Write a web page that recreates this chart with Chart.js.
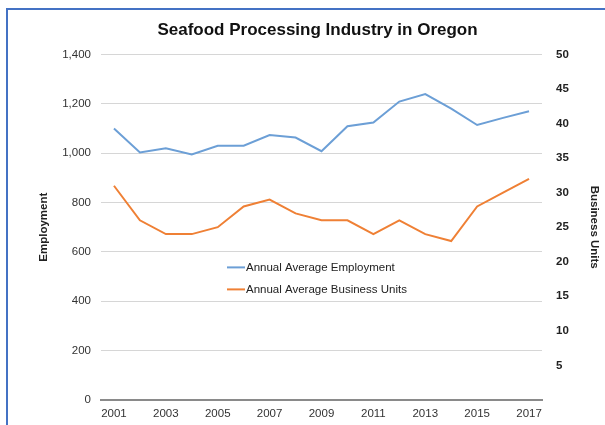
<!DOCTYPE html>
<html>
<head>
<meta charset="utf-8">
<script src="https://cdn.jsdelivr.net/npm/chart.js@4/dist/chart.umd.min.js"></script>
<style>
  html, body { margin: 0; padding: 0; background: #fff; }
  #frame {
    position: absolute; left: 6px; top: 8px; width: 599px; height: 417px;
    border-top: 2px solid #4472c4; border-left: 2px solid #4472c4;
  }
  #wrap { position: absolute; left: 0; top: 0; width: 605px; height: 425px; }
</style>
</head>
<body>
<div id="frame"></div>
<div id="wrap"><canvas id="chart" width="605" height="425"></canvas></div>
<script>
const years = ["2001", "2002", "2003", "2004", "2005", "2006", "2007", "2008", "2009",
  "2010", "2011", "2012", "2013", "2014", "2015", "2016", "2017"];
const employment = [1100, 1003, 1020, 995, 1030, 1030, 1073, 1063, 1008,
  1109, 1124, 1209, 1239, 1180, 1114, 1143, 1170];
const businessUnits = [31, 26, 24, 24, 25, 28, 29, 27, 26, 26, 24, 26, 24, 23, 28, 30, 32];

const blue = "#6c9fd6";
const orange = "#ef8035";
const font = "'Liberation Sans', Arial, sans-serif";

// legend sits inside the plot, under the employment line
const innerLegend = {
  id: "innerLegend",
  afterDatasetsDraw(chart) {
    const ctx = chart.ctx;
    const area = chart.chartArea;
    const x = area.left + 126;
    const rows = [
      { y: area.top + 213, color: blue, text: "Annual Average Employment" },
      { y: area.top + 235, color: orange, text: "Annual Average Business Units" }
    ];
    ctx.save();
    ctx.font = "11.5px " + font;
    ctx.textBaseline = "middle";
    ctx.textAlign = "left";
    rows.forEach(r => {
      ctx.strokeStyle = r.color;
      ctx.lineWidth = 2;
      ctx.beginPath();
      ctx.moveTo(x, r.y);
      ctx.lineTo(x + 18, r.y);
      ctx.stroke();
      ctx.fillStyle = "#222";
      ctx.fillText(r.text, x + 19, r.y + 0.5);
    });
    ctx.restore();
  }
};

new Chart(document.getElementById("chart"), {
  type: "line",
  data: {
    labels: years,
    datasets: [
      {
        label: "Annual Average Employment",
        data: employment,
        yAxisID: "y",
        borderColor: blue,
        borderWidth: 2,
        pointRadius: 0,
        tension: 0
      },
      {
        label: "Annual Average Business Units",
        data: businessUnits,
        yAxisID: "y1",
        borderColor: orange,
        borderWidth: 2,
        pointRadius: 0,
        tension: 0
      }
    ]
  },
  options: {
    responsive: false,
    animation: false,
    layout: { padding: { left: 30, right: 0, top: 0, bottom: 0 } },
    plugins: {
      legend: { display: false },
      tooltip: { enabled: false },
      title: {
        display: true,
        text: "Seafood Processing Industry in Oregon",
        color: "#111",
        font: { family: font, size: 17, weight: "bold" },
        padding: { top: 20, bottom: 14 }
      }
    },
    scales: {
      x: {
        offset: true,
        grid: { display: false, drawTicks: false },
        border: { display: true, color: "#8a8a8a", width: 2 },
        ticks: {
          autoSkip: false,
          maxRotation: 0,
          padding: 7,
          color: "#333",
          font: { family: font, size: 11.5 },
          callback: function (val, i) { return i % 2 === 0 ? this.getLabelForValue(val) : ""; }
        },
        afterFit: s => { s.height = 25; }
      },
      y: {
        position: "left",
        min: 0,
        max: 1400,
        grid: { color: "#d6d6d6", lineWidth: 1, drawTicks: false },
        border: { display: false },
        ticks: {
          stepSize: 200,
          padding: 10,
          color: "#333",
          font: { family: font, size: 11.5 },
          callback: v => v.toLocaleString("en-US")
        },
        title: {
          display: true,
          text: "Employment",
          color: "#222",
          font: { family: font, size: 11.5, weight: "bold" },
          padding: { top: 7, bottom: 0 }
        },
        afterFit: s => { s.width = 71; }
      },
      y1: {
        position: "right",
        min: 0,
        max: 50,
        grid: { display: false, drawTicks: false },
        border: { display: false },
        ticks: {
          stepSize: 5,
          padding: 14,
          color: "#222",
          font: { family: font, size: 11.5, weight: "bold" },
          callback: v => (v === 0 ? "" : v)
        },
        title: {
          display: true,
          text: "Business Units",
          color: "#222",
          font: { family: font, size: 11.5, weight: "bold" },
          padding: { top: 4, bottom: 0 }
        },
        afterFit: s => { s.width = 63; }
      }
    }
  },
  plugins: [innerLegend]
});
</script>
</body>
</html>
